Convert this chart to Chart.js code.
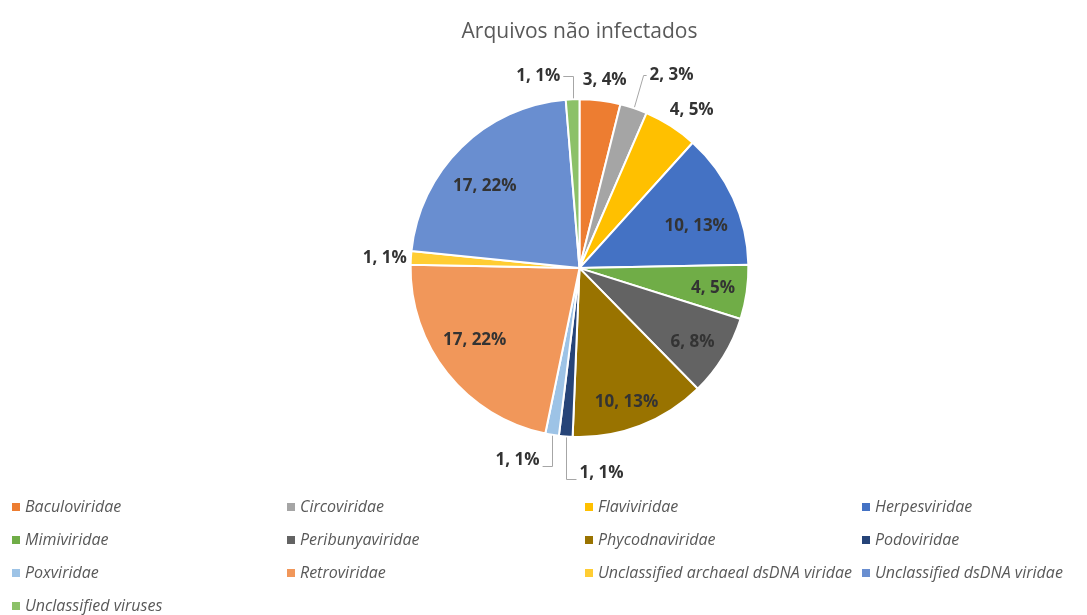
<!DOCTYPE html>
<html>
<head>
<meta charset="utf-8">
<script src="https://cdn.jsdelivr.net/npm/chart.js@4.4.1/dist/chart.umd.min.js"></script>
<style>
    html, body { margin: 0; padding: 0; background: #fff; }
    .wrap { position: relative; width: 1087px; height: 615px; }
</style>
</head>
<body>
<div class="wrap"><canvas id="pieChart" width="1087" height="615"></canvas></div>
<script>

// data
const categories = [
    "Baculoviridae", "Circoviridae", "Flaviviridae", "Herpesviridae",
    "Mimiviridae", "Peribunyaviridae", "Phycodnaviridae", "Podoviridae",
    "Poxviridae", "Retroviridae", "Unclassified archaeal dsDNA viridae",
    "Unclassified dsDNA viridae", "Unclassified viruses"
];
const counts = [3, 2, 4, 10, 4, 6, 10, 1, 1, 17, 1, 17, 1];

const colors = [
    "#ED7D31", "#A5A5A5", "#FFC000", "#4472C4", "#70AD47", "#636363",
    "#997300", "#264478", "#9DC3E6", "#F1975A", "#FFCD33", "#698ED0", "#8CC168"
];

// where each value label sits: [angle nudge in degrees, distance from centre in px]
const labelPlace = [
    [0.6, 190], [6.8, 214], [2.6, 194], [4.8, 124], [0.4, 135], [1.6, 135], [1.7, 142],
    [-10.8, 206], [8.5, 202], [4.2, 127], [-0.6, 195], [-4.8, 125], [-9.8, 196]
];
// leader lines: "v" = vertical leg then short horizontal, "d" = slanted leg
const leaders = { 1: "d", 7: "v", 8: "v", 12: "v" };

let total = counts.reduce(function (a, b) { return a + b; }, 0);

function labelText(i) {
    return counts[i] + ", " + Math.round(counts[i] / total * 100) + "%";
}

const sliceLabels = {
    id: "sliceLabels",
    afterDatasetsDraw(chart) {
        const ctx = chart.ctx;
        const arcs = chart.getDatasetMeta(0).data;
        ctx.save();
        ctx.font = "bold 17px 'Open Sans'";
        ctx.textAlign = "center";
        ctx.textBaseline = "middle";
        arcs.forEach(function (arc, i) {
            const p = arc.getProps(["x", "y", "startAngle", "endAngle", "outerRadius"], true);
            const mid = (p.startAngle + p.endAngle) / 2;
            const text = labelText(i);
            const a = mid + labelPlace[i][0] * Math.PI / 180;
            const lx = p.x + Math.cos(a) * labelPlace[i][1];
            const ly = p.y + Math.sin(a) * labelPlace[i][1];
            if (leaders[i]) {
                const ex = p.x + Math.cos(mid) * (p.outerRadius + 1);
                const ey = p.y + Math.sin(mid) * (p.outerRadius + 1);
                const w = ctx.measureText(text).width;
                const tx = lx < ex ? lx + w / 2 + 3 : lx - w / 2 - 3;
                const bx = leaders[i] === "v" ? Math.round(ex) + 0.5 : tx + (ex < tx ? -3 : 3);
                const by = Math.round(ly + (ly > ey ? 6 : 0)) + 0.5;
                ctx.strokeStyle = "#A6A6A6";
                ctx.lineWidth = 1;
                ctx.beginPath();
                ctx.moveTo(Math.round(ex) + 0.5, ey);
                ctx.lineTo(bx, by);
                ctx.lineTo(tx, by);
                ctx.stroke();
            }
            ctx.fillStyle = "#333333";
            ctx.fillText(text, lx, ly);
        });
        ctx.restore();
    }
};

// legend in four fixed columns under the pie
const gridLegend = {
    id: "gridLegend",
    afterDraw(chart) {
        const ctx = chart.ctx;
        const colX = [12, 287, 585, 862];
        const rowY = [507, 540, 573, 606];
        ctx.save();
        ctx.font = "italic 16px 'Open Sans'";
        ctx.textBaseline = "middle";
        ctx.textAlign = "left";
        chart.data.labels.forEach(function (name, i) {
            const x = colX[i % 4];
            const y = rowY[Math.floor(i / 4)];
            ctx.fillStyle = chart.data.datasets[0].backgroundColor[i];
            ctx.fillRect(x, y - 4, 8, 8);
            ctx.fillStyle = "#595959";
            ctx.fillText(name, x + 13, y);
        });
        ctx.restore();
    }
};

new Chart(document.getElementById("pieChart"), {
    type: "pie",
    data: {
        labels: categories,
        datasets: [{
            data: counts,
            backgroundColor: colors,
            borderColor: "#ffffff",
            borderWidth: 2
        }]
    },
    options: {
        responsive: false,
        animation: false,
        layout: {
            padding: { left: 72, right: 0, top: 0, bottom: 177 }
        },
        plugins: {
            legend: { display: false },
            tooltip: { enabled: false },
            title: {
                display: true,
                text: "Arquivos não infectados",
                color: "#595959",
                font: { family: "'Open Sans'", size: 21, weight: "normal" },
                padding: { top: 19, bottom: 54 }
            }
        }
    },
    plugins: [sliceLabels, gridLegend]
});

</script>
</body>
</html>
